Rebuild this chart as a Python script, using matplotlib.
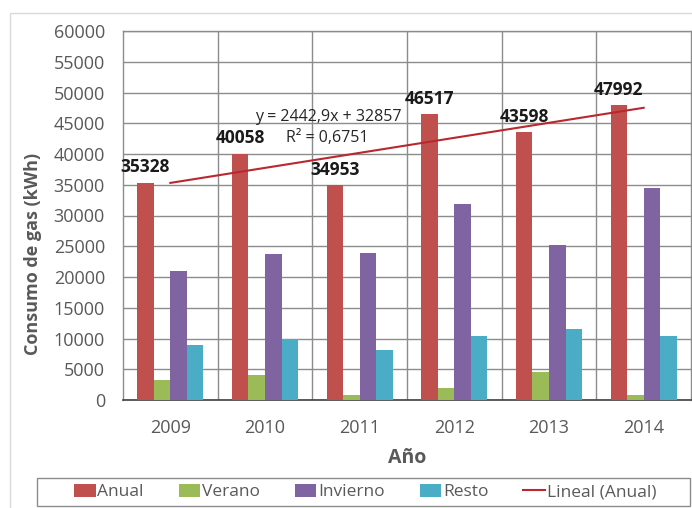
import matplotlib
matplotlib.use("Agg")
import matplotlib.pyplot as plt
from matplotlib.patches import Rectangle
from matplotlib.lines import Line2D
import numpy as np

years = ["2009", "2010", "2011", "2012", "2013", "2014"]
anual = [35328, 40058, 34953, 46517, 43598, 47992]
verano = [3250, 4100, 800, 2000, 4600, 800]
invierno = [20900, 23700, 23900, 31900, 25200, 34400]
resto = [9000, 10000, 8100, 10400, 11500, 10400]
series_names = ["Anual", "Verano", "Invierno", "Resto"]
trend_slope = 2442.9
trend_intercept = 32857
eq_text = "y = 2442,9x + 32857"
r2_text = "R² = 0,6751"

colors = ["#C0504D", "#9BBB59", "#8064A2", "#4BACC6"]
trend_color = "#B8282E"
FONT = ["Open Sans", "DejaVu Sans"]
plt.rcParams["font.family"] = FONT

W, H = 692, 508
fig = plt.figure(figsize=(W / 100, H / 100), dpi=100)
# outer chart border
fig.patches.append(Rectangle((10 / W, -0.01), 1.0, 1 - 13 / H + 0.01,
                             transform=fig.transFigure, fill=False,
                             edgecolor="#d9d9d9", linewidth=1.0))
# legend border
fig.patches.append(Rectangle((37 / W, 1 - 506 / H), (690 - 37) / W, 28 / H,
                             transform=fig.transFigure, fill=False,
                             edgecolor="#8c8c8c", linewidth=1.0))

L, R, T, B = 123, 691, 31, 400
ax = fig.add_axes([L / W, 1 - B / H, (R - L) / W, (B - T) / H])

x = np.arange(len(years))
bw = 0.175
offs = [-1.5 * bw, -0.5 * bw, 0.5 * bw, 1.5 * bw]
data = [anual, verano, invierno, resto]
handles = []
for d, o, c, n in zip(data, offs, colors, series_names):
    b = ax.bar(x + o, d, width=bw, color=c, label=n, zorder=3)
    handles.append(b)

# trend line
tx = np.array([1, len(years)])
ty = trend_slope * tx + trend_intercept
ax.plot(tx - 1, ty, color=trend_color, linewidth=1.5, zorder=4)
trend_handle = Line2D([0], [0], color=trend_color, linewidth=1.5)

# data labels
for xi, v in zip(x, anual):
    ax.annotate(str(v), (xi + offs[0], v), xytext=(0, 11), textcoords="offset points",
                ha="center", va="center", fontsize=12.5, fontweight="bold",
                color="#1a1a1a", zorder=5)

ax.text(1.665, 46000, eq_text, ha="center", va="center", fontsize=11.5,
        color="#262626", zorder=5)
ax.text(1.66, 42600, r2_text, ha="center", va="center", fontsize=11.5,
        color="#262626", zorder=5)

ax.set_xlim(-0.5, len(years) - 0.5)
ax.set_ylim(0, 60000)
ax.set_yticks(np.arange(0, 60001, 5000))
ax.set_yticklabels([str(v) for v in range(0, 60001, 5000)])
ax.set_xticks(x)
ax.set_xticklabels(years)
ax.tick_params(axis="both", length=0, labelsize=13, labelcolor="#595959")
ax.tick_params(axis="y", pad=13)
ax.tick_params(axis="x", pad=14)

ax.grid(axis="y", color="#8c8c8c", linewidth=1.0, zorder=0)
for xb in np.arange(0.5, len(years) - 0.5, 1):
    ax.axvline(xb, color="#8c8c8c", linewidth=1.0, zorder=0)
for s in ["top", "right", "left"]:
    ax.spines[s].set_color("#8c8c8c")
    ax.spines[s].set_linewidth(1.0)
ax.spines["bottom"].set_color("#404040")
ax.spines["bottom"].set_linewidth(1.2)

ax.set_ylabel("Consumo de gas (kWh)", fontsize=13, fontweight="bold",
              color="#595959", va="center")
ax.set_xlabel("Año", fontsize=14, fontweight="bold", color="#595959", va="center")
ax.yaxis.set_label_coords(-(123 - 33) / (R - L), (B - 254) / (B - T))
ax.xaxis.set_label_coords(0.5, -(458 - B) / (B - T))

leg = fig.legend(handles + [trend_handle], series_names + ["Lineal (Anual)"],
                 loc="center", ncol=5,
                 bbox_to_anchor=(365 / W, 1 - 492 / H),
                 fontsize=12.5, frameon=False,
                 handlelength=1.25, handleheight=0.75,
                 handletextpad=0.1, columnspacing=2.0, borderaxespad=0,
                 labelcolor="#595959")

fig.savefig("out.png", dpi=100)
